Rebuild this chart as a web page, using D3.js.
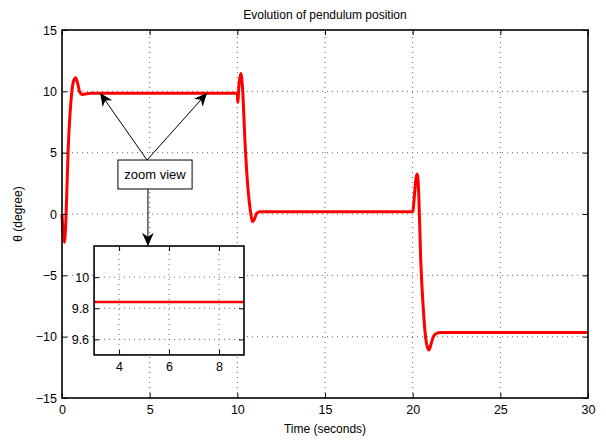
<!DOCTYPE html>
<html>
<head>
<meta charset="utf-8">
<script src="https://cdn.jsdelivr.net/npm/d3@7"></script>
<style>
  body { margin: 0; background: #fff; }
  text { font-family: "Liberation Sans", Arial, sans-serif; fill: #000; }
</style>
</head>
<body>
<div id="chart"></div>
<script>
// values
var timeSec = [0, 0.06, 0.13, 0.2, 0.28, 0.35, 0.45, 0.55, 0.65, 0.78, 0.9, 1.0, 1.15, 1.3, 1.6,
  10.0, 10.02, 10.1, 10.2, 10.3, 10.44, 10.63, 10.75, 10.86, 10.98, 11.1, 11.3, 11.6,
  20.0, 20.1, 20.2, 20.27, 20.35, 20.46, 20.61, 20.75, 20.85, 20.93, 21.05, 21.2, 21.37, 21.6, 30];
var thetaDeg = [0, -1.5, -2.3, -1.2, 2.0, 5.2, 8.0, 9.8, 10.8, 11.1, 10.6, 10.0, 9.75, 9.78, 9.84,
  9.84, 9.1, 10.6, 11.45, 10.2, 5.8, 1.7, 0.2, -0.63, -0.4, 0.05, 0.18, 0.19,
  0.19, 1.5, 3.0, 3.26, 1.5, -3.75, -7.8, -10.2, -10.9, -11.08, -10.6, -9.95, -9.73, -9.67, -9.67];

var xTicks = [0, 5, 10, 15, 20, 25, 30];
var yTicks = [-15, -10, -5, 0, 5, 10, 15];
var insetXTicks = [4, 6, 8];
var insetYTicks = [9.6, 9.8, 10];
var insetXDomain = [3, 9];
var insetYDomain = [9.5, 10.2];

// annotation anchors in data units
var labelBox = {t0: 3.19, t1: 7.42, th0: 4.4, th1: 2.04};
var arrowFrom = [4.85, 4.4];
var arrowTips = [[2.17, 9.86], [8.27, 9.86]];
var downArrow = {t: 4.9, from: 2.04, to: -2.6};
var insetBox = {t0: 1.83, t1: 10.38, th0: -2.61, th1: -11.49};

var data = timeSec.map(function(t, i) { return {t: t, v: thetaDeg[i]}; });

var margin = {top: 30, right: 18, bottom: 46, left: 62},
    width = 606 - margin.left - margin.right,
    height = 444 - margin.top - margin.bottom;

var svg = d3.select("#chart")
  .append("svg")
    .attr("width", 606)
    .attr("height", 444)
  .append("g")
    .attr("transform", "translate(" + margin.left + "," + margin.top + ")");

var x = d3.scaleLinear().domain([0, 30]).range([0, width]);
var y = d3.scaleLinear().domain([-15, 15]).range([height, 0]);

var minus = function(d) { return String(d).replace("-", "\u2212"); };

var defs = svg.append("defs");
defs.append("marker")
    .attr("id", "head")
    .attr("viewBox", "0 0 10 10")
    .attr("refX", 10)
    .attr("refY", 5)
    .attr("markerWidth", 13)
    .attr("markerHeight", 13)
    .attr("markerUnits", "userSpaceOnUse")
    .attr("orient", "auto")
  .append("path")
    .attr("d", "M0,0.5 L10,5 L0,9.5 L3,5 Z")
    .attr("fill", "#000");

// grid
function grid(g, xs, ys, xt, yt) {
  var r = xs.range(), rr = ys.range();
  g.selectAll(".gx").data(xt).enter().append("line")
    .attr("x1", d => xs(d)).attr("x2", d => xs(d))
    .attr("y1", rr[0]).attr("y2", rr[1])
    .attr("stroke", "#666").attr("stroke-width", 1).attr("stroke-dasharray", "1,4");
  g.selectAll(".gy").data(yt).enter().append("line")
    .attr("x1", r[0]).attr("x2", r[1])
    .attr("y1", d => ys(d)).attr("y2", d => ys(d))
    .attr("stroke", "#666").attr("stroke-width", 1).attr("stroke-dasharray", "1,4");
}
grid(svg.append("g"), x, y, xTicks.slice(1, -1), yTicks.slice(1, -1));

// axes with inward ticks on all sides
function axes(g, xs, ys, xt, yt, w, h, fmt) {
  g.append("g").attr("transform", "translate(0," + h + ")")
    .call(d3.axisBottom(xs).tickValues(xt).tickSizeInner(-5).tickSizeOuter(0).tickPadding(7).tickFormat(fmt));
  g.append("g")
    .call(d3.axisTop(xs).tickValues(xt).tickSizeInner(-5).tickSizeOuter(0).tickFormat(""));
  g.append("g")
    .call(d3.axisLeft(ys).tickValues(yt).tickSizeInner(-5).tickSizeOuter(0).tickPadding(5).tickFormat(fmt));
  g.append("g").attr("transform", "translate(" + w + ",0)")
    .call(d3.axisRight(ys).tickValues(yt).tickSizeInner(-5).tickSizeOuter(0).tickFormat(""));
  g.selectAll(".domain").remove();
  g.selectAll(".tick line").attr("stroke", "#000");
  g.selectAll(".tick text").style("font-size", "12.5px").attr("font-family", "Liberation Sans, Arial, sans-serif");
  g.append("rect").attr("width", w).attr("height", h)
    .attr("fill", "none").attr("stroke", "#000").attr("stroke-width", 1.6);
}

var line = d3.line()
  .x(d => x(d.t)).y(d => y(d.v))
  .curve(d3.curveMonotoneX);

svg.append("path")
  .datum(data)
  .attr("fill", "none")
  .attr("stroke", "#ff0000")
  .attr("stroke-width", 3)
  .attr("stroke-linejoin", "round")
  .attr("d", line);

axes(svg, x, y, xTicks, yTicks, width, height, minus);

// annotation box and arrows
svg.append("rect")
  .attr("x", x(labelBox.t0)).attr("y", y(labelBox.th0))
  .attr("width", x(labelBox.t1) - x(labelBox.t0))
  .attr("height", y(labelBox.th1) - y(labelBox.th0))
  .attr("fill", "#fff").attr("stroke", "#000").attr("stroke-width", 1);
svg.append("text")
  .attr("x", (x(labelBox.t0) + x(labelBox.t1)) / 2)
  .attr("y", (y(labelBox.th0) + y(labelBox.th1)) / 2)
  .attr("dy", "0.35em")
  .attr("text-anchor", "middle")
  .style("font-size", "13px")
  .text("zoom view");

arrowTips.forEach(function(tip) {
  svg.append("line")
    .attr("x1", x(arrowFrom[0])).attr("y1", y(arrowFrom[1]))
    .attr("x2", x(tip[0])).attr("y2", y(tip[1]))
    .attr("stroke", "#000").attr("stroke-width", 1)
    .attr("marker-end", "url(#head)");
});
svg.append("line")
  .attr("x1", x(downArrow.t)).attr("y1", y(downArrow.from))
  .attr("x2", x(downArrow.t)).attr("y2", y(downArrow.to))
  .attr("stroke", "#000").attr("stroke-width", 1)
  .attr("marker-end", "url(#head)");

// inset
var ix0 = x(insetBox.t0), iy0 = y(insetBox.th0);
var iw = x(insetBox.t1) - ix0, ih = y(insetBox.th1) - iy0;
var inset = svg.append("g").attr("transform", "translate(" + ix0 + "," + iy0 + ")");
inset.append("rect").attr("width", iw).attr("height", ih).attr("fill", "#fff");
var xi = d3.scaleLinear().domain(insetXDomain).range([0, iw]);
var yi = d3.scaleLinear().domain(insetYDomain).range([ih, 0]);
grid(inset.append("g"), xi, yi, insetXTicks, insetYTicks);
inset.append("clipPath").attr("id", "insetClip")
  .append("rect").attr("width", iw).attr("height", ih);
inset.append("path")
  .datum(data)
  .attr("clip-path", "url(#insetClip)")
  .attr("fill", "none")
  .attr("stroke", "#ff0000")
  .attr("stroke-width", 2.5)
  .attr("d", d3.line().x(d => xi(d.t)).y(d => yi(d.v)).curve(d3.curveMonotoneX));
axes(inset, xi, yi, insetXTicks, insetYTicks, iw, ih, d3.format("~g"));

// labels
svg.append("text")
  .attr("x", width / 2).attr("y", -11)
  .attr("text-anchor", "middle")
  .style("font-size", "12px")
  .text("Evolution of pendulum position");
svg.append("text")
  .attr("x", width / 2).attr("y", height + 35)
  .attr("text-anchor", "middle")
  .style("font-size", "12px")
  .text("Time (seconds)");
svg.append("text")
  .attr("transform", "rotate(-90)")
  .attr("x", -height / 2).attr("y", -40)
  .attr("text-anchor", "middle")
  .style("font-size", "12px")
  .text("\u03b8 (degree)");
</script>
</body>
</html>
